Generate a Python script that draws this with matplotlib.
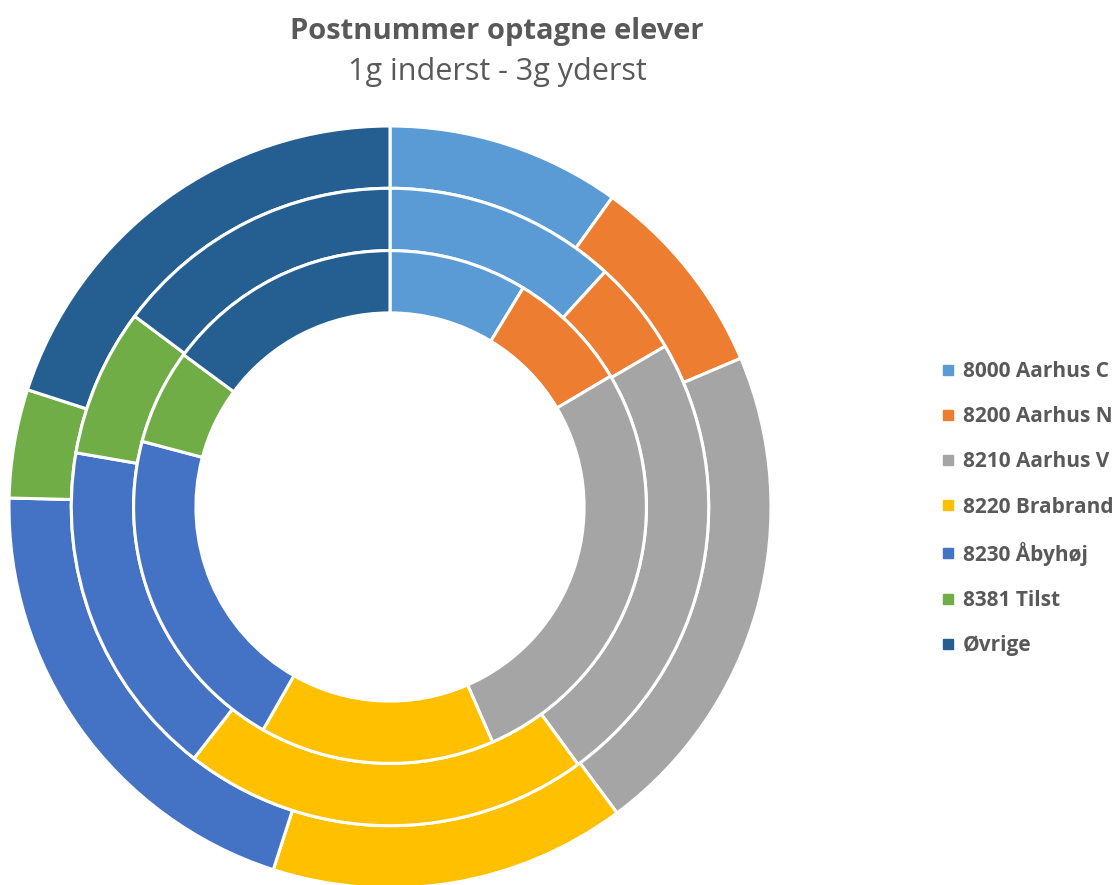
import matplotlib
matplotlib.use("Agg")
import matplotlib.pyplot as plt
from matplotlib.lines import Line2D

plt.rcParams['font.family'] = ['Open Sans', 'DejaVu Sans']

categories = ["8000 Aarhus C", "8200 Aarhus N", "8210 Aarhus V", "8220 Brabrand",
              "8230 Åbyhøj", "8381 Tilst", "Øvrige"]
g1_inner = [8.7, 7.8, 27.0, 14.8, 20.9, 6.0, 14.9]
g2_middle = [11.8, 4.8, 23.4, 20.6, 17.2, 7.5, 14.8]
g3_outer = [9.9, 8.7, 21.2, 15.1, 20.4, 4.6, 20.0]
colors = ["#5B9BD5", "#ED7D31", "#A5A5A5", "#FFC000", "#4472C4", "#70AD47", "#255E91"]

title = "Postnummer optagne elever"
subtitle = "1g inderst - 3g yderst"

W, H = 1119, 885
fig = plt.figure(figsize=(W / 100, H / 100), dpi=100)
cx, cy, R = 390, 507, 381
ax = fig.add_axes([(cx - R) / W, (H - cy - R) / H, 2 * R / W, 2 * R / H])

w = 62.3 / R
for i, data in enumerate([g3_outer, g2_middle, g1_inner]):
    ax.pie(data, radius=1 - i * w, colors=colors, startangle=90, counterclock=False,
           wedgeprops=dict(width=w, edgecolor="white", linewidth=2.2))
ax.set_xlim(-1, 1)
ax.set_ylim(-1, 1)
ax.set_aspect("equal")
ax.axis("off")

fig.text(497 / W, 1 - 31 / H, title, ha="center", va="center", fontsize=21,
         fontweight="bold", color="#595959")
fig.text(497 / W, 1 - 72 / H, subtitle, ha="center", va="center", fontsize=22,
         color="#595959")

handles = [Line2D([0], [0], marker="s", linestyle="none", markersize=7,
                  markerfacecolor=c, markeredgecolor=c) for c in colors]
leg = fig.legend(handles, categories, loc="upper left",
                 bbox_to_anchor=(942 / W, 1 - 361 / H), frameon=False,
                 prop=dict(size=15, weight="bold"), labelcolor="#595959",
                 handlelength=0.6, handletextpad=0.4, labelspacing=1.16,
                 borderaxespad=0, borderpad=0)

fig.savefig("out.png", dpi=100)
